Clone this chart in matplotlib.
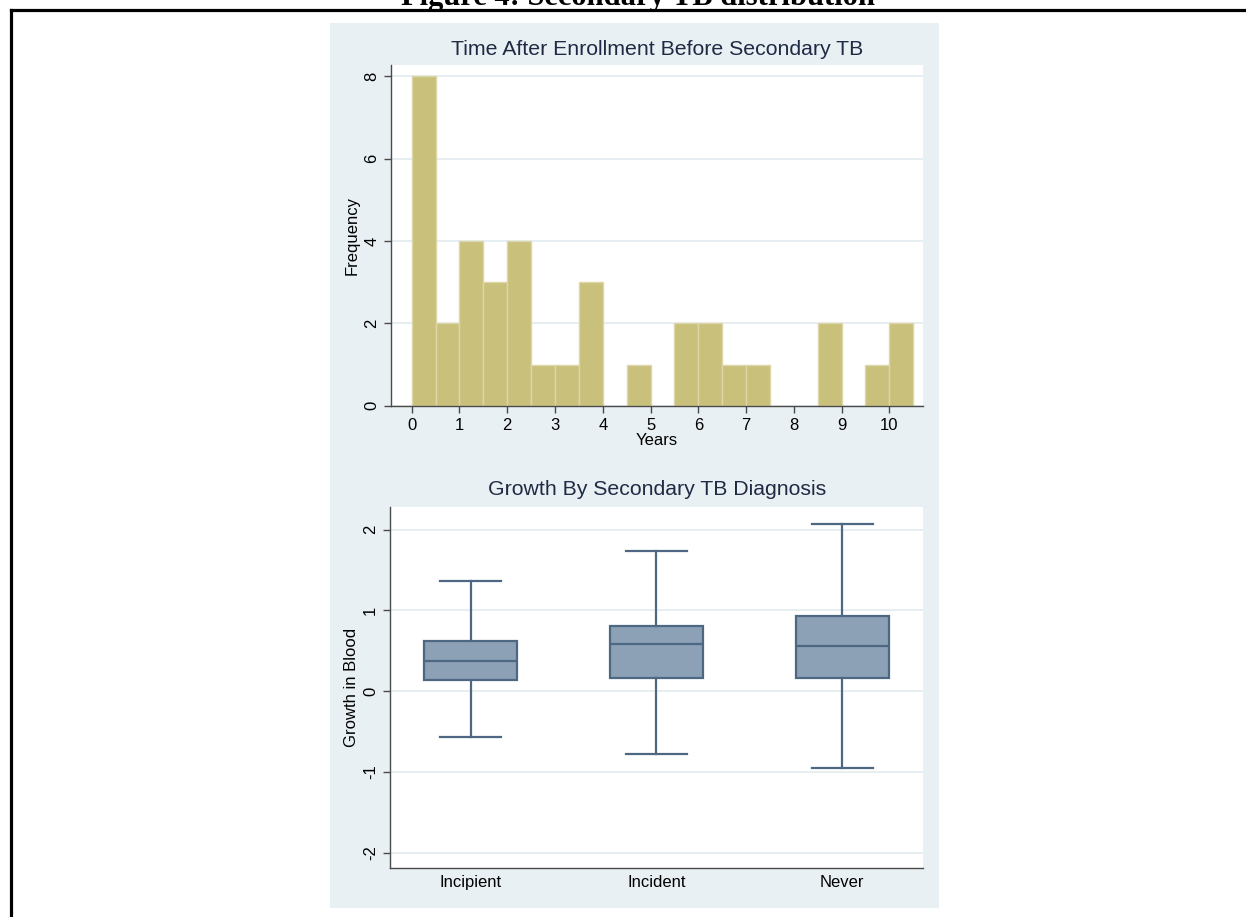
"""Secondary TB figure: onset histogram and growth box plots, Stata s2color look."""

import matplotlib

matplotlib.use("Agg")
import matplotlib.pyplot as plt
import numpy as np
from matplotlib.lines import Line2D
from matplotlib.patches import Rectangle

W, H, DPI = 1246, 917, 100

REGION = "#E9F0F3"
GRID = "#E6EEF1"
KHAKI = "#C9C07B"
BOX_FILL = "#8CA0B6"
BOX_LINE = "#4E6783"
TITLE = "#1F2A44"
AXIS = "#4A4A4A"

# histogram: half-year bins starting at 0
bin_width = 0.5
counts = [8, 2, 4, 3, 4, 1, 1, 3, 0, 1, 0, 2, 2, 1, 1, 0, 0, 2, 0, 1, 2]
year_ticks = [0, 1, 2, 3, 4, 5, 6, 7, 8, 9, 10]
freq_ticks = [0, 2, 4, 6, 8]

# box plot summaries by diagnosis group
groups = ["Incipient", "Incident", "Never"]
whis_lo = [-0.57, -0.77, -0.95]
q1 = [0.14, 0.16, 0.17]
median = [0.38, 0.59, 0.56]
q3 = [0.62, 0.81, 0.93]
whis_hi = [1.36, 1.73, 2.07]
growth_ticks = [-2, -1, 0, 1, 2]

plt.rcParams.update({
    "font.family": ["Liberation Sans", "DejaVu Sans"],
    "font.size": 11,
    "axes.unicode_minus": False,
})

fig = plt.figure(figsize=(W / DPI, H / DPI), dpi=DPI, facecolor="white")


def px(x0, y0, x1, y1):
    """pixel box (top-left origin) -> figure rect"""
    return [x0 / W, 1 - y1 / H, (x1 - x0) / W, (y1 - y0) / H]


# caption, cut by the top edge, and the frame around the figure
fig.text(638 / W, 1 - 5 / H, "Figure 4: Secondary TB distribution",
         ha="center", va="baseline", fontsize=22, fontweight="bold",
         family=["Liberation Serif", "DejaVu Serif"])
fig.add_artist(Line2D([10.5 / W, 1.0], [1 - 9.5 / H, 1 - 9.5 / H],
                      color="black", lw=2.3, solid_capstyle="projecting"))
fig.add_artist(Line2D([10.5 / W, 10.5 / W], [0, 1 - 9.5 / H],
                      color="black", lw=2.3, solid_capstyle="projecting"))

# Stata graph region
r = px(330, 23, 939, 908)
fig.add_artist(Rectangle((r[0], r[1]), r[2], r[3], transform=fig.transFigure,
                         facecolor=REGION, edgecolor="none", zorder=0))


def style_axes(ax):
    ax.set_facecolor("white")
    for s in ("top", "right"):
        ax.spines[s].set_visible(False)
    for s in ("left", "bottom"):
        ax.spines[s].set_color(AXIS)
        ax.spines[s].set_linewidth(1.0)
    ax.tick_params(colors=AXIS, labelcolor="black", length=5, width=1.0,
                   labelsize=12)
    ax.set_axisbelow(True)
    ax.yaxis.grid(True, color=GRID, lw=1.4)
    ax.xaxis.grid(False)
    for lab in ax.get_yticklabels():
        lab.set_rotation(90)
        lab.set_va("center")


# --- top: histogram of time to secondary TB
ax1 = fig.add_axes(px(391, 65, 923.3, 405.7))
edges = np.arange(len(counts)) * bin_width
nz = [i for i, c in enumerate(counts) if c > 0]
ax1.bar(edges[nz], np.array(counts)[nz], width=bin_width, align="edge",
        color=KHAKI, edgecolor="#DCD6A8", linewidth=1.0, zorder=2)
ax1.set_xlim(-0.433, 10.71)
ax1.set_ylim(0, 8.27)
ax1.set_xticks(year_ticks)
ax1.set_yticks(freq_ticks)
style_axes(ax1)
ax1.set_xlabel("Years", fontsize=12, labelpad=0)
ax1.set_ylabel("Frequency", fontsize=12, labelpad=3)
ax1.set_title("Time After Enrollment Before Secondary TB", fontsize=15.3,
              color=TITLE, pad=7)

# --- bottom: growth by diagnosis
ax2 = fig.add_axes(px(390, 507, 923.3, 868.3))
stats = [dict(label=g, whislo=lo, q1=a, med=m, q3=b, whishi=hi)
         for g, lo, a, m, b, hi in zip(groups, whis_lo, q1, median, q3, whis_hi)]
line = dict(color=BOX_LINE, linewidth=1.6)
ax2.bxp(stats, positions=[1, 2, 3], widths=0.5, capwidths=0.33,
        showfliers=False, patch_artist=True,
        boxprops=dict(facecolor=BOX_FILL, edgecolor=BOX_LINE, linewidth=1.6),
        medianprops=line, whiskerprops=line, capprops=line, zorder=2)
ax2.set_xlim(0.566, 3.436)
ax2.set_ylim(-2.19, 2.28)
ax2.set_yticks(growth_ticks)
style_axes(ax2)
ax2.tick_params(axis="x", length=0, pad=5)
ax2.set_ylabel("Growth in Blood", fontsize=12, labelpad=3)
ax2.set_title("Growth By Secondary TB Diagnosis", fontsize=15.3, color=TITLE,
              pad=9)

fig.savefig("out.png", dpi=DPI)
